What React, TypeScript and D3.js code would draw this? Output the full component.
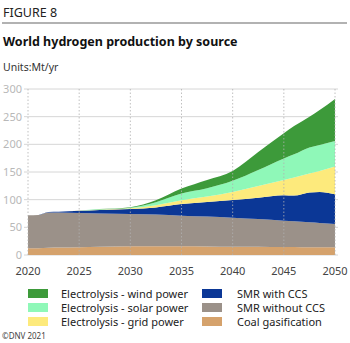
import React from "react";
import * as d3 from "d3";

const years = [2020, 2021, 2022, 2023, 2025, 2027, 2030, 2032.5, 2035, 2037.5, 2040, 2042.5, 2045, 2046, 2047.5, 2048.5, 2050];
const coal = [12, 12, 13, 13.5, 14, 15, 16, 16, 16, 15.5, 15, 15, 14.5, 14.5, 14, 14, 14];
const smrNoCcs = [60, 60.5, 64, 63.5, 62, 60, 58, 57, 55, 54, 52.5, 50, 47.5, 46.5, 45, 44, 42];
const smrCcs = [0, 0, 0.5, 1, 4, 6.5, 9, 13, 21, 26.5, 32, 38.5, 46, 46.5, 54, 56, 54];
const grid = [0, 0, 0, 0, 0.3, 0.5, 1.5, 4, 7, 9.5, 14.5, 21, 27.5, 32.5, 34.5, 38, 50];
const solar = [0, 0, 0, 0, 0.2, 0.5, 1, 5.5, 12, 15, 20, 29, 39, 42, 47, 47, 46];
const wind = [0, 0, 0, 0, 0.1, 0.5, 1, 3.5, 9, 15, 18, 32.5, 45.5, 51, 55.5, 63, 76];

const yTicks = [0, 50, 100, 150, 200, 250, 300];
const xTicks = [2020, 2025, 2030, 2035, 2040, 2045, 2050];

const seriesKeys = ["coal", "smrNoCcs", "smrCcs", "grid", "solar", "wind"];
const seriesColors: Record<string, string> = {
  coal: "#d5a26c",
  smrNoCcs: "#9b9189",
  smrCcs: "#0b3796",
  grid: "#fdea7c",
  solar: "#8ff8b8",
  wind: "#3d9a3a",
};
const legendCol1 = [
  { key: "wind", label: "Electrolysis - wind power" },
  { key: "solar", label: "Electrolysis - solar power" },
  { key: "grid", label: "Electrolysis - grid power" },
];
const legendCol2 = [
  { key: "smrCcs", label: "SMR with CCS" },
  { key: "smrNoCcs", label: "SMR without CCS" },
  { key: "coal", label: "Coal gasification" },
];

const font = "'Noto Sans', 'Open Sans', sans-serif";

export default function App() {
  const W = 350, H = 343;
  const x = d3.scaleLinear().domain([2020, 2050]).range([28, 335]);
  const y = d3.scaleLinear().domain([0, 300]).range([255, 89]);

  const table = years.map((yr, i) => ({
    year: yr,
    coal: coal[i],
    smrNoCcs: smrNoCcs[i],
    smrCcs: smrCcs[i],
    grid: grid[i],
    solar: solar[i],
    wind: wind[i],
  }));
  const stacked = d3.stack<any>().keys(seriesKeys)(table);
  const area = d3
    .area<any>()
    .x((d) => x(d.data.year))
    .y0((d) => y(d[0]))
    .y1((d) => y(d[1]))
    .curve(d3.curveMonotoneX);

  return (
    <svg width={W} height={H} style={{ position: "absolute", left: 0, top: 0, background: "#fff" }}>
      <text x={3} y={17} fontFamily={font} fontSize={12.5} fill="#222">FIGURE 8</text>
      <line x1={2} x2={347} y1={23} y2={23} stroke="#666" strokeWidth={1.2} />
      <text x={3} y={46} fontFamily={font} fontSize={12.5} fontWeight="bold" fill="#111">
        World hydrogen production by source
      </text>
      <text x={3} y={71} fontFamily={font} fontSize={10.5} fill="#333">Units:Mt/yr</text>

      {yTicks.map((t) => (
        <g key={t}>
          <line x1={24} x2={338} y1={y(t)} y2={y(t)} stroke="#d6d6d6" strokeWidth={1} />
          <text x={22} y={y(t) + 4} textAnchor="end" fontFamily={font} fontSize={11} fill="#b8b8b8">
            {t}
          </text>
        </g>
      ))}
      {stacked.map((s) => (
        <path key={s.key} d={area(s) || ""} fill={seriesColors[s.key]} />
      ))}
      {xTicks.map((t) => (
        <g key={t}>
          <line x1={x(t)} x2={x(t)} y1={y(300)} y2={y(0)} stroke="#b0b0b0" strokeWidth={0.8} strokeDasharray="1.5,2" />
          <text x={x(t)} y={275} textAnchor="middle" fontFamily={font} fontSize={11} fill="#444">
            {t}
          </text>
        </g>
      ))}

      {legendCol1.map((l, i) => (
        <g key={l.key}>
          <rect x={28} y={289 + i * 14} width={20} height={9} fill={seriesColors[l.key]} />
          <text x={61} y={298 + i * 14} fontFamily={font} fontSize={11} fill="#222">{l.label}</text>
        </g>
      ))}
      {legendCol2.map((l, i) => (
        <g key={l.key}>
          <rect x={202} y={289 + i * 14} width={20} height={9} fill={seriesColors[l.key]} />
          <text x={237} y={298 + i * 14} fontFamily={font} fontSize={11} fill="#222">{l.label}</text>
        </g>
      ))}
      <text x={2} y={339} fontFamily={font} fontSize={8} fill="#444">©DNV 2021</text>
    </svg>
  );
}
